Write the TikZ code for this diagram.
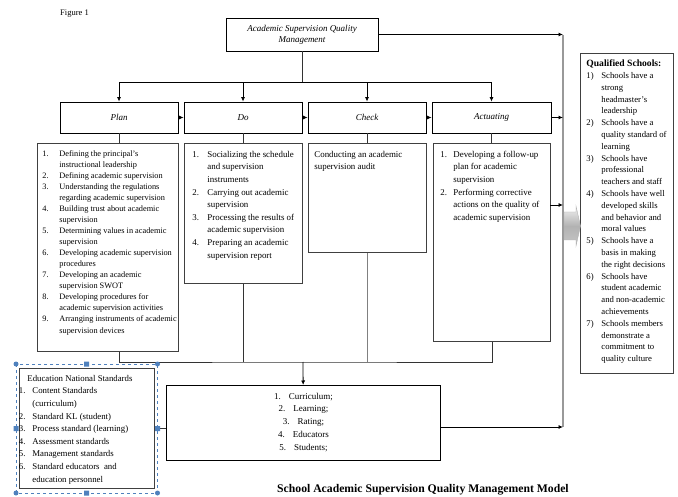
\documentclass[tikz,border=0pt]{standalone}
\usepackage{fontspec}
\setmainfont{Liberation Serif}
\usetikzlibrary{arrows.meta}

\definecolor{selblue}{RGB}{79,129,189}
\newcommand{\boxtext}[3]{\parbox[c][#1][t]{#2}{#3}}

\begin{document}
\begin{tikzpicture}[x=1pt, y=-1pt,
    every node/.style={inner sep=0pt},
    stage/.style={draw, line width=0.8, minimum width=118, minimum height=31,
      font=\fontsize{9}{11}\selectfont\itshape},
    listbox/.style={draw=black!75, line width=0.8, anchor=north west,
      inner xsep=5pt, inner ysep=5pt},
    arr/.style={line width=0.8, -{Latex[length=4.5pt, width=4pt]}},
    link/.style={line width=0.8, draw=black!80},
  ]
  \useasboundingbox (0,0) rectangle (678,497);

  \node[font=\fontsize{8.5}{10}\selectfont, anchor=base west] (fig) at (60,16) {Figure 1};

  % top and stage boxes
  \node[stage, minimum width=152, minimum height=33, align=center] (qm) at (302,34.5)
    {Academic Supervision Quality\\Management};
  \node[stage] (plan) at (119,117.5) {Plan};
  \node[stage] (do) at (243,117.5) {Do};
  \node[stage] (check) at (367,117.5) {Check};
  \node[stage, minimum width=119] (act) at (491.5,117.5) {Actuating};

  \coordinate (split) at (302,82);
  \coordinate (railtop) at (563,35);
  \coordinate (railbot) at (563,427);
  \coordinate (merge) at (303,362);
  \coordinate (actout) at (550,205);

  % lists under the stages
  \node[listbox] (planlist) at (37,143) {\boxtext{198pt}{131pt}{\fontsize{8.3}{11}\selectfont
    \begin{tabular}{@{}p{17pt}@{}l@{}}
    1. & Defining the principal's\\
       & instructional leadership\\
    2. & Defining academic supervision\\
    3. & Understanding the regulations\\
       & regarding academic supervision\\
    4. & Building trust about academic\\
       & supervision\\
    5. & Determining values in academic\\
       & supervision\\
    6. & Developing academic supervision\\
       & procedures\\
    7. & Developing an academic\\
       & supervision SWOT\\
    8. & Developing procedures for\\
       & academic supervision activities\\
    9. & Arranging instruments of academic\\[1.5pt]
       & supervision devices
    \end{tabular}}};
  \node[listbox, inner xsep=8pt] (dolist) at (184,143) {\boxtext{130pt}{102pt}{\fontsize{8.9}{12.6}\selectfont
    \begin{tabular}{@{}p{15pt}@{}l@{}}
    1. & Socializing the schedule\\
       & and supervision\\
       & instruments\\
    2. & Carrying out academic\\
       & supervision\\
    3. & Processing the results of\\
       & academic supervision\\
    4. & Preparing an academic\\
       & supervision report
    \end{tabular}}};
  \node[listbox, inner xsep=6pt] (checklist) at (308,143) {\boxtext{99pt}{106pt}{\fontsize{8.9}{12.6}\selectfont
    \begin{tabular}{@{}l@{}}
    Conducting an academic\\
    supervision audit
    \end{tabular}}};
  \node[listbox, inner xsep=7pt] (actlist) at (433,143) {\boxtext{188pt}{103pt}{\fontsize{8.9}{12.6}\selectfont
    \begin{tabular}{@{}p{13pt}@{}l@{}}
    1. & Developing a follow-up\\
       & plan for academic\\
       & supervision\\
    2. & Performing corrective\\
       & actions on the quality of\\
       & academic supervision
    \end{tabular}}};

  % outcome box
  \node[listbox, inner xsep=6pt] (qualified) at (580,53) {\boxtext{310pt}{81pt}{\fontsize{8.7}{11.8}\selectfont
    \begin{tabular}{@{}p{15pt}@{}l@{}}
    \multicolumn{2}{@{}l@{}}{\fontsize{9.6}{11.8}\selectfont\bfseries Qualified Schools:}\\
    1) & Schools have a\\
       & strong\\
       & headmaster's\\
       & leadership\\
    2) & Schools have a\\
       & quality standard of\\
       & learning\\
    3) & Schools have\\
       & professional\\
       & teachers and staff\\
    4) & Schools have well\\
       & developed skills\\
       & and behavior and\\
       & moral values\\
    5) & Schools have a\\
       & basis in making\\
       & the right decisions\\
    6) & Schools have\\
       & student academic\\
       & and non-academic\\
       & achievements\\
    7) & Schools members\\
       & demonstrate a\\
       & commitment to\\
       & quality culture
    \end{tabular}}};

  % standards and aspects
  \node[listbox, inner xsep=0pt, inner ysep=4pt] (ens) at (19,368) {\boxtext{112pt}{135pt}{\fontsize{8.8}{12.6}\selectfont
    \begin{tabular}{@{\hspace{-0.5pt}}p{13.5pt}@{}l@{}}
    \multicolumn{2}{@{\hspace{8pt}}l@{}}{Education National Standards}\\
    1. & Content Standards\\
       & (curriculum)\\
    2. & Standard KL (student)\\
    3. & Process standard (learning)\\
    4. & Assessment standards\\
    5. & Management standards\\
    6. & Standard educators\ \ and\\
       & education personnel
    \end{tabular}}};
  \node[listbox, draw=black, inner xsep=0pt] (aspects) at (166,385) {\boxtext{65pt}{274pt}{\centering\fontsize{9}{12.7}\selectfont
    \strut 1.\hspace{8pt}Curriculum;\\
    \strut 2.\hspace{8pt}Learning;\\
    \strut 3.\hspace{8pt}Rating;\\
    \strut 4.\hspace{8pt}Educators\\
    \strut 5.\hspace{8pt}Students;\par}};

  \node[font=\fontsize{11.7}{14}\selectfont\bfseries, anchor=base west] (caption) at (277,492)
    {School Academic Supervision Quality Management Model};

  % rail and block arrow
  \draw[gray!80, line width=1.4] (railtop) -- (railbot);
  \shade[top color=gray!10, bottom color=gray!45, middle color=gray!60, draw=gray!60]
    (564,212) -- (576,212) -- (576,206) -- (580.5,226) -- (576,246) -- (576,240) -- (564,240) -- cycle;

  % connectors
  \draw[link] (qm) -- (split);
  \draw[arr] (split) -| (plan);
  \draw[arr] (split) -| (do);
  \draw[arr] (split) -| (check);
  \draw[arr] (split) -| (act);
  \draw[arr] (qm.east) -- (qm.east -| railtop);
  \draw[arr] (plan) -- (do);
  \draw[arr] (do) -- (check);
  \draw[arr] (check) -- (act);
  \draw[arr] (act) -- (act -| railtop);
  \draw[link] (plan.south) -- (plan.south |- planlist.north);
  \draw[link] (do.south) -- (do.south |- dolist.north);
  \draw[link] (check.south) -- (check.south |- checklist.north);
  \draw[link] (act.south) -- (act.south |- actlist.north);
  \draw[arr] (actout) -- (actout -| railtop);
  \draw[link] (planlist.south -| plan) |- (merge) -| (actlist.south);
  \draw[link] (dolist) -- (dolist |- merge);
  \draw[link, draw=gray] (checklist) -- (checklist |- merge);
  \draw[arr] (merge) -- (aspects);
  \draw[arr] (aspects.east |- railbot) -- (railbot);
  \draw[link] (ens) -- (ens -| aspects.west);

  % selection frame round the standards box
  \draw[selblue, dashed, line width=0.6] (16,364) rectangle (157.5,493);
  \fill[selblue] (16,364) circle (2.5) (157.5,364) circle (2.5)
    (16,493) circle (2.5) (157.5,493) circle (2.5);
  \fill[selblue] (84,361.5) rectangle ++(5,5) (84,490.5) rectangle ++(5,5)
    (13.5,426) rectangle ++(5,5) (155,426) rectangle ++(5,5);
\end{tikzpicture}
\end{document}
